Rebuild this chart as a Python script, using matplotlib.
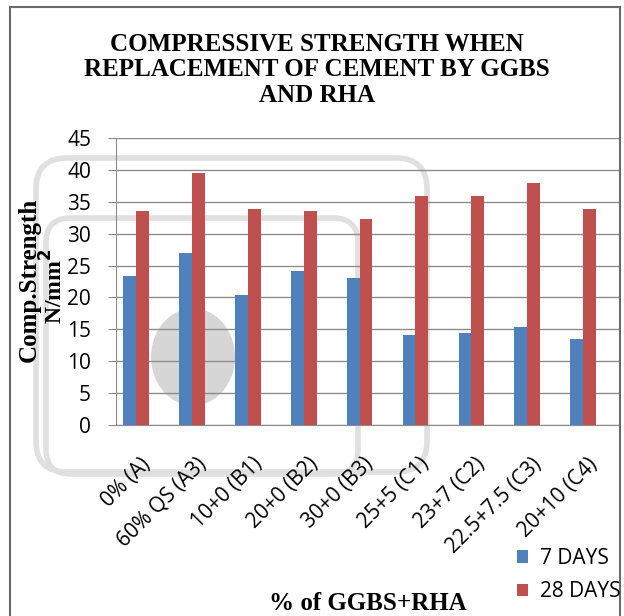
import matplotlib
matplotlib.use("Agg")
import matplotlib.pyplot as plt
import matplotlib.transforms as mtransforms
import numpy as np
from matplotlib.patches import Rectangle, FancyBboxPatch, Ellipse

categories = ["0% (A)", "60% QS (A3)", "10+0 (B1)", "20+0 (B2)", "30+0 (B3)",
              "25+5 (C1)", "23+7 (C2)", "22.5+7.5 (C3)", "20+10 (C4)"]
days7 = [23.3, 27.0, 20.4, 24.2, 23.0, 14.1, 14.4, 15.3, 13.5]
days28 = [33.5, 39.5, 33.9, 33.5, 32.3, 35.9, 35.9, 38.0, 33.9]
yticks = [0, 5, 10, 15, 20, 25, 30, 35, 40, 45]

W, H = 624, 616
fig = plt.figure(figsize=(W / 100, H / 100), dpi=100)
fig.patch.set_facecolor("white")


def fx(px):
    return px / W


def fy(py):
    return 1 - py / H


# outer frame
fig.add_artist(Rectangle((fx(10), -0.01), fx(610), 1.01 - 7 / H, transform=fig.transFigure,
                         fill=False, edgecolor="#6a6a6a", linewidth=1.5))

# faint background watermark shapes
wm = "#e0e0e0"
fig.add_artist(FancyBboxPatch((fx(36), fy(472)), fx(391), (472 - 158) / H,
                              boxstyle="round,pad=0,rounding_size=0.05",
                              transform=fig.transFigure, fill=False,
                              edgecolor=wm, linewidth=4, zorder=-1))
fig.add_artist(FancyBboxPatch((fx(46), fy(474)), fx(312), (474 - 218) / H,
                              boxstyle="round,pad=0,rounding_size=0.04",
                              transform=fig.transFigure, fill=False,
                              edgecolor=wm, linewidth=4, zorder=-1))
fig.add_artist(Ellipse((fx(193), fy(357)), fx(84), 97 / H, transform=fig.transFigure,
                       facecolor="#d6d6d6", edgecolor="none", zorder=-1))

ax = fig.add_axes([fx(116), fy(425), fx(504), (425 - 138) / H])
ax.set_facecolor("none")
x = np.arange(len(categories))
w = 0.23
ax.bar(x - w / 2, days7, width=w, color="#4F81BD", label="7 DAYS", zorder=3)
ax.bar(x + w / 2, days28, width=w, color="#C0504D", label="28 DAYS", zorder=3)

ax.set_ylim(0, 45)
ax.set_xlim(-0.36, 8.66)
ax.set_yticks(yticks)
ax.yaxis.grid(True, color="#8c8c8c", linewidth=1.0, zorder=0)
ax.set_axisbelow(True)
for s in ["top", "right"]:
    ax.spines[s].set_visible(False)
ax.spines["left"].set_color("#8c8c8c")
ax.spines["bottom"].set_color("#8c8c8c")
ax.tick_params(axis="y", length=6, color="#8c8c8c", labelsize=15, pad=12)
ax.tick_params(axis="x", length=0, labelsize=15, pad=26)
for lbl in ax.get_yticklabels():
    lbl.set_family("Open Sans")
ax.set_xticks(x)
ax.set_xticklabels(categories, rotation=45, ha="right", va="center",
                   rotation_mode="anchor", family="Open Sans", fontsize=15)
shift = mtransforms.ScaledTranslation(11 / 100, 0, fig.dpi_scale_trans)
for lbl in ax.get_xticklabels():
    lbl.set_transform(lbl.get_transform() + shift)

fig.text(fx(317), fy(70),
         "COMPRESSIVE STRENGTH WHEN\nREPLACEMENT OF CEMENT BY GGBS\nAND RHA",
         ha="center", va="center", family="Liberation Serif", fontweight="bold",
         fontsize=18, linespacing=1.12)
fig.text(fx(29), fy(280), "Comp.Strength", rotation=90, ha="center", va="center",
         family="Liberation Serif", fontweight="bold", fontsize=18)
fig.text(fx(54), fy(286), "N/mm$^{\\mathbf{2}}$", rotation=90, ha="center", va="center",
         family="Liberation Serif", fontweight="bold", fontsize=17)
fig.text(fx(368), fy(604), "% of GGBS+RHA", ha="center", va="center",
         family="Liberation Serif", fontweight="bold", fontsize=18)

fig.legend(loc="center left", bbox_to_anchor=(fx(498), fy(575)), frameon=False,
           prop={"family": "Open Sans", "size": 15}, handlelength=0.55,
           handleheight=0.55, handletextpad=0.55, labelspacing=0.6)

fig.savefig("out.png", dpi=100, facecolor="white")
